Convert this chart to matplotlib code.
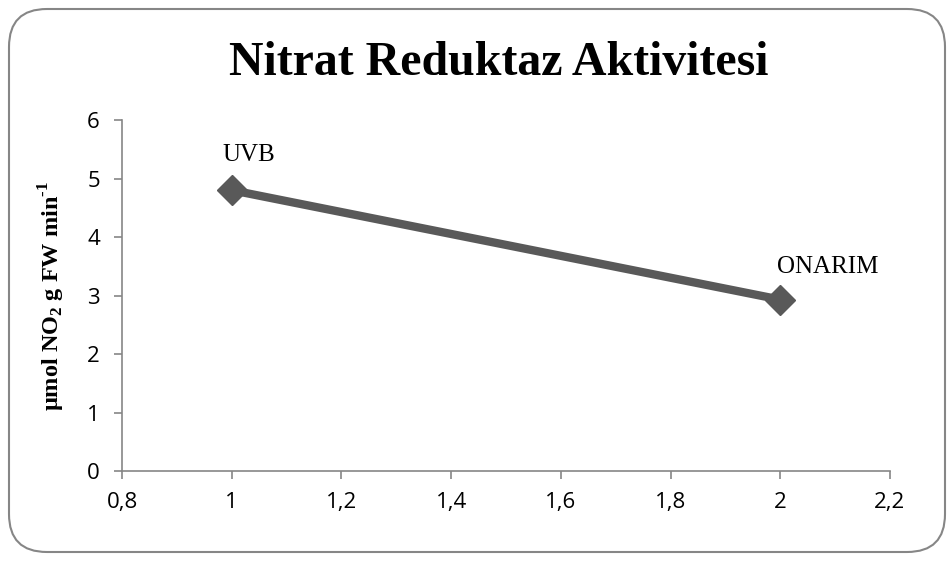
import matplotlib.pyplot as plt
from matplotlib.patches import FancyBboxPatch

# data
x_vals = [1, 2]
y_vals = [4.8, 2.93]
point_labels = ['UVB', 'ONARIM']
x_ticks = [0.8, 1.0, 1.2, 1.4, 1.6, 1.8, 2.0, 2.2]
y_ticks = [0, 1, 2, 3, 4, 5, 6]

plt.rcParams['mathtext.fontset'] = 'custom'
plt.rcParams['mathtext.rm'] = 'Liberation Serif:bold'
plt.rcParams['mathtext.bf'] = 'Liberation Serif:bold'

fig = plt.figure(figsize=(9.48, 5.61), dpi=100)
ax = fig.add_axes([0.1287, 0.1604, 0.8101, 0.6257])

# rounded chart border
border = FancyBboxPatch((9 / 948, 9 / 561), 936 / 948, 543 / 561,
                        boxstyle='round,pad=0,rounding_size=0.04',
                        transform=fig.transFigure, facecolor='none',
                        edgecolor='#868686', linewidth=1.5, mutation_aspect=948 / 561)
fig.patches.append(border)

line_col = '#595959'
ax.plot(x_vals, y_vals, color=line_col, linewidth=6, marker='D',
        markersize=15, markerfacecolor=line_col, markeredgecolor=line_col)

# point labels (moved by hand in the original)
ax.annotate(point_labels[0], (x_vals[0], y_vals[0]), xytext=(12, 21),
            textcoords='offset points', ha='center', va='baseline',
            fontsize=18, fontname='Liberation Serif')
ax.annotate(point_labels[1], (x_vals[1], y_vals[1]), xytext=(34, 19.5),
            textcoords='offset points', ha='center', va='baseline',
            fontsize=18, fontname='Liberation Serif')

ax.set_xlim(0.8, 2.2)
ax.set_ylim(0, 6)
ax.set_xticks(x_ticks)
ax.set_xticklabels([f'{v:g}'.replace('.', ',') for v in x_ticks])
ax.set_yticks(y_ticks)
ax.tick_params(labelsize=16, colors='#868686', length=6, width=1.2)
ax.tick_params(axis='x', pad=9)
ax.tick_params(axis='y', pad=10)
for lbl in ax.get_xticklabels() + ax.get_yticklabels():
    lbl.set_color('black')
    lbl.set_fontname('Open Sans')

for side in ['top', 'right']:
    ax.spines[side].set_visible(False)
for side in ['left', 'bottom']:
    ax.spines[side].set_color('#868686')
    ax.spines[side].set_linewidth(1.2)

ax.set_ylabel('µmol NO$_\\mathbf{2}$ g FW min$^\\mathbf{\u20101}$', fontsize=17.5,
              fontname='Liberation Serif', fontweight='bold', va='center')
ax.yaxis.set_label_coords(-0.091, 0.5)

fig.text(0.526, 1 - 75 / 561, 'Nitrat Reduktaz Aktivitesi', ha='center', va='baseline',
         fontsize=34.5, fontname='Liberation Serif', fontweight='bold')

plt.savefig('out.png', dpi=100)
